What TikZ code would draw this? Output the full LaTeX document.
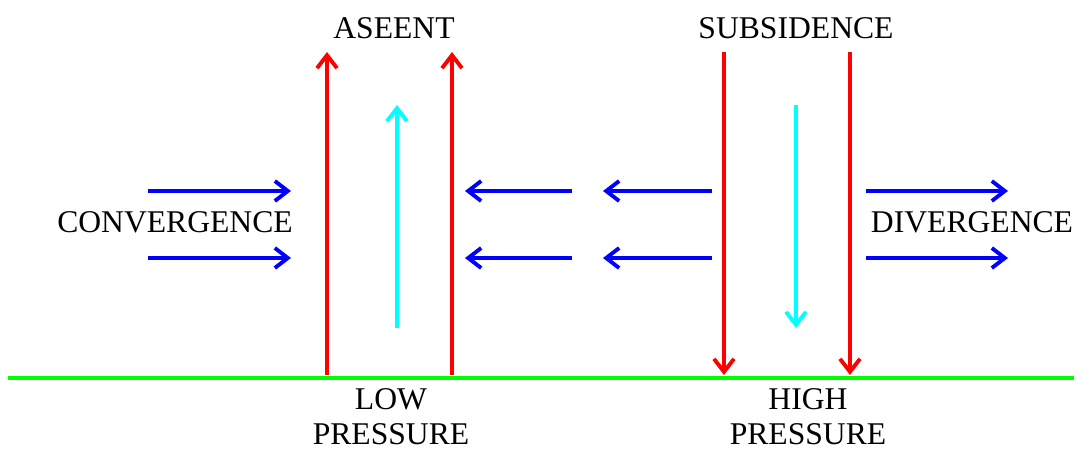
\documentclass[tikz,border=0pt]{standalone}
\usepackage{fontspec}
\setmainfont{Liberation Serif}
\usetikzlibrary{positioning, arrows.meta}
\definecolor{aqua}{RGB}{0,255,255}

\begin{document}
\begin{tikzpicture}[
    x=0.02cm, y=-0.02cm,
    flow/.style={-{Straight Barb[length=0.26cm, width=0.4cm]}, line width=2.2pt},
    label/.style={font=\fontsize{18}{19.8}\selectfont, align=center, inner sep=0pt}
]
\useasboundingbox (0,0) rectangle (1076,450);

% Ground
\coordinate (gl) at (8,378);
\coordinate (gr) at (1074,378);
\draw[green, line width=2.6pt] (gl) -- (gr);

% Ascent (red up) and subsidence (red down)
\foreach \x/\nm in {327/a1, 452/a2} {
    \coordinate (\nm b) at (\x,375);
    \coordinate (\nm t) at (\x,52);
    \draw[flow, red] (\nm b) -- (\nm t);
}
\foreach \x/\nm in {724/s1, 850/s2} {
    \coordinate (\nm t) at (\x,52);
    \coordinate (\nm b) at (\x,375);
    \draw[flow, red] (\nm t) -- (\nm b);
}

% Cyan arrows
\coordinate (cub) at (397,328);
\coordinate (cut) at (397,105);
\draw[flow, aqua] (cub) -- (cut);
\coordinate (cdt) at (796,105);
\coordinate (cdb) at (796,328);
\draw[flow, aqua] (cdt) -- (cdb);

% Horizontal flow
\foreach \y/\r in {191/1, 258/2} {
    \coordinate (cin\r) at (148,\y);   \coordinate (cout\r) at (291,\y);
    \draw[flow, blue] (cin\r) -- (cout\r);
    \coordinate (m1s\r) at (572,\y);   \coordinate (m1e\r) at (465,\y);
    \draw[flow, blue] (m1s\r) -- (m1e\r);
    \coordinate (m2s\r) at (712,\y);   \coordinate (m2e\r) at (603,\y);
    \draw[flow, blue] (m2s\r) -- (m2e\r);
    \coordinate (din\r) at (866,\y);   \coordinate (dout\r) at (1008,\y);
    \draw[flow, blue] (din\r) -- (dout\r);
}

% Labels
\node[label] (ascent) at (394,28) {ASEENT};
\node[label] (subsid) at (796,28) {SUBSIDENCE};
\node[label] (conv) at (175,222) {CONVERGENCE};
\node[label] (div) at (972,222) {DIVERGENCE};
\node[label] (low) at (391,417) {LOW\\PRESSURE};
\node[label] (high) at (808,417) {HIGH\\PRESSURE};

\end{tikzpicture}
\end{document}
